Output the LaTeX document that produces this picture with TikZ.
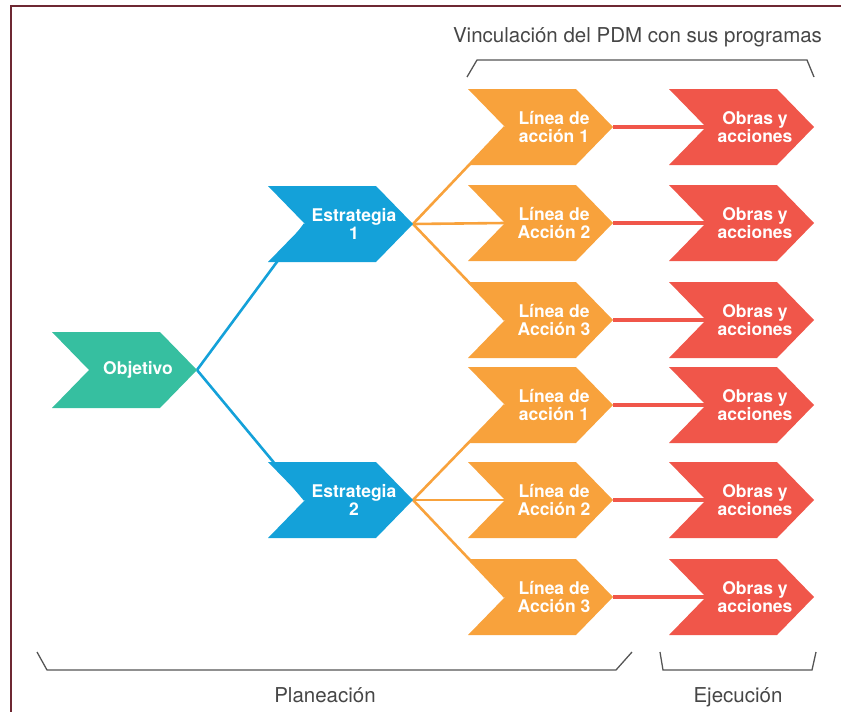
\documentclass[tikz,border=0pt]{standalone}
\usepackage{fontspec}
\setmainfont{TeX Gyre Heros}
\usetikzlibrary{backgrounds}
\definecolor{cgreen}{RGB}{54,191,160}
\definecolor{cblue}{RGB}{20,161,217}
\definecolor{corange}{RGB}{248,162,60}
\definecolor{cred}{RGB}{240,86,74}
\definecolor{cgray}{RGB}{85,85,85}
\definecolor{ctext}{RGB}{70,70,70}
\definecolor{cframe}{RGB}{110,40,50}
\tikzset{
  lbl/.style={text=white, font=\fontsize{17.5}{17.5}\selectfont\bfseries, align=center, inner sep=0pt},
  title/.style={text=ctext, font=\fontsize{20.5}{22}\selectfont, inner sep=0pt, anchor=base},
  bluelink/.style={draw=cblue, line width=2.6pt},
  orangelink/.style={draw=corange, line width=2.6pt},
  redlink/.style={draw=cred, line width=4.5pt},
  bracket/.style={draw=cgray, line width=1.3pt, line join=miter},
}
% name, left x, center y, colour, text
\newcommand\chev[5]{%
  \fill[#4] (#2,#3-38) -- (#2+108,#3-38) -- (#2+145,#3) -- (#2+108,#3+38) -- (#2,#3+38) -- (#2+37,#3) -- cycle;
  \node[lbl] (#1) at (#2+86,#3) {#5};
  \coordinate (#1-in) at (#2+37,#3);
  \coordinate (#1-out) at (#2+145,#3);
}
\begin{document}
\begin{tikzpicture}[x=1pt,y=-1pt]
\useasboundingbox (0,0) rectangle (841,712);
% frame
\draw[cframe, line width=1.8pt] (11,712) -- (11,6) -- (841,6);

% chevrons
\chev{obj}{52}{370}{cgreen}{Objetivo}
\chev{e1}{268}{224}{cblue}{Estrategia\\1}
\chev{e2}{268}{500}{cblue}{Estrategia\\2}
\chev{la}{468}{127}{corange}{Línea de\\acción 1}
\chev{lb}{468}{223}{corange}{Línea de\\Acción 2}
\chev{lc}{468}{320}{corange}{Línea de\\Acción 3}
\chev{ld}{468}{405}{corange}{Línea de\\acción 1}
\chev{le}{468}{500}{corange}{Línea de\\Acción 2}
\chev{lf}{468}{597}{corange}{Línea de\\Acción 3}
\chev{oa}{669}{127}{cred}{Obras y\\acciones}
\chev{ob}{669}{223}{cred}{Obras y\\acciones}
\chev{oc}{669}{320}{cred}{Obras y\\acciones}
\chev{od}{669}{405}{cred}{Obras y\\acciones}
\chev{oe}{669}{500}{cred}{Obras y\\acciones}
\chev{of}{669}{597}{cred}{Obras y\\acciones}

% connectors behind the shapes
\begin{pgfonlayer}{background}
\draw[bluelink] (obj-out) -- (e1-in);
\draw[bluelink] (obj-out) -- (e2-in);
\foreach \l in {la,lb,lc} \draw[orangelink] (e1-out) -- (\l-in);
\foreach \l in {ld,le,lf} \draw[orangelink] (e2-out) -- (\l-in);
\draw[redlink] (la-out) -- (oa-in);
\draw[redlink] (lb-out) -- (ob-in);
\draw[redlink] (lc-out) -- (oc-in);
\draw[redlink] (ld-out) -- (od-in);
\draw[redlink] (le-out) -- (oe-in);
\draw[redlink] (lf-out) -- (of-in);
\end{pgfonlayer}

% brackets
\draw[bracket] (467,77) -- (477,60) -- (807,60) -- (814,77);
\draw[bracket] (37,652) -- (47,670) -- (616,670) -- (632,652);
\draw[bracket] (660,652) -- (663,670) -- (812,670) -- (816,652);

% titles
\node[title] (tv) at (637.5,42) {Vinculación del PDM con sus programas};
\node[title] (tp) at (325,702) {Planeación};
\node[title] (te) at (738,702) {Ejecución};
\end{tikzpicture}
\end{document}
